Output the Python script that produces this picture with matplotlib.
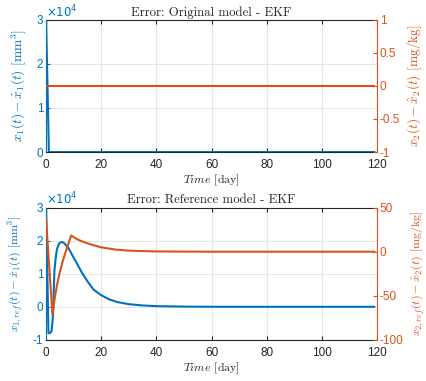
import matplotlib
matplotlib.use("Agg")
import matplotlib.pyplot as plt
from matplotlib.ticker import FuncFormatter, FixedLocator

plt.rcParams['font.family'] = ['Liberation Sans', 'DejaVu Sans']
plt.rcParams['mathtext.fontset'] = 'dejavusans'

BLUE = '#0072BD'
ORANGE = '#D95319'
DARK = '#262626'

# ---- data ----
# top panel (original model)
t_top_x1 = [0, 1, 119]
e_top_x1 = [30000, 0, 0]
t_top_x2 = [0, 119]
e_top_x2 = [0, 0]

# bottom panel (reference model)
t_bot_x1 = [0, 0.85, 1.5, 2.0, 2.5, 3.0, 3.5, 3.9, 4.5, 5.0, 5.7, 6.5, 8.1, 9.5, 11.1,
            13, 15, 17.2, 20, 23, 26, 30, 35, 40, 50, 60, 80, 119]
e_bot_x1 = [30000, -8000, -7900, -7300, -2500, 10700, 15000, 17300, 18800, 19400, 19600,
            19300, 17800, 15600, 13200, 10300, 7700, 5200, 3500, 2200, 1400, 800, 400,
            200, 60, 10, 0, 0]
t_bot_x2 = [0, 2.3, 3, 4, 5, 6, 7, 8, 9.1, 10, 12, 15, 17, 20, 25, 30, 40, 60, 119]
e_bot_x2 = [36.4, -71.7, -55, -37, -23, -11, -1, 8.5, 18.5, 16.5, 13, 9.5, 7.5, 5,
            2.5, 1.2, 0.3, 0, 0]

x_ticks = [0, 20, 40, 60, 80, 100, 120]
top_left_ticks = [0, 10000, 20000, 30000]
top_right_ticks = [-1, -0.5, 0, 0.5, 1]
bot_left_ticks = [-10000, 0, 10000, 20000, 30000]
bot_right_ticks = [-100, -50, 0, 50]

fig = plt.figure(figsize=(4.27, 3.81), dpi=100)

def make_panel(rect, title, t1, e1, t2, e2, lt, lylim, rt, rylim, ylab_l, ylab_r,
               ylab_size):
    ax = fig.add_axes(rect)
    ax.plot(t1, e1, color=BLUE, lw=1.5, zorder=3)
    ax.set_xlim(0, 120)
    ax.set_ylim(*lylim)
    ax.xaxis.set_major_locator(FixedLocator(x_ticks))
    ax.yaxis.set_major_locator(FixedLocator(lt))
    ax.yaxis.set_major_formatter(FuncFormatter(lambda v, p: '%g' % (v / 1e4)))
    ax.grid(True, color='#e6e6e6', lw=0.8, zorder=0)
    ax.set_axisbelow(True)
    ax.tick_params(axis='x', direction='in', top=True, colors=DARK, labelsize=8.5,
                   length=3, width=0.8, pad=5)
    ax.tick_params(axis='y', direction='in', colors=BLUE, labelsize=8.5,
                   length=3, width=0.8, pad=2)
    for s in ['top', 'bottom']:
        ax.spines[s].set_color(DARK)
        ax.spines[s].set_linewidth(0.8)
    ax.spines['left'].set_color(BLUE)
    ax.spines['left'].set_linewidth(0.8)
    ax.spines['right'].set_visible(False)
    ax.text(0.0, 1.0, r'$\times10^4$', transform=ax.transAxes, color=BLUE,
            fontsize=8.5, ha='left', va='bottom')
    ax.set_title(title, fontfamily='cmr10', fontsize=9.2, pad=3, color=DARK)
    ax.set_xlabel(r'$Time$ [day]', fontfamily='cmr10', math_fontfamily='cm',
                  fontsize=8.5, color=DARK, labelpad=1)
    ax.set_ylabel(ylab_l, fontfamily='cmr10', math_fontfamily='cm', fontsize=ylab_size,
                  color=BLUE, labelpad=6)

    ax2 = ax.twinx()
    ax2.plot(t2, e2, color=ORANGE, lw=1.5, zorder=3)
    ax2.set_ylim(*rylim)
    ax2.yaxis.set_major_locator(FixedLocator(rt))
    ax2.yaxis.set_major_formatter(FuncFormatter(lambda v, p: '%g' % v))
    ax2.tick_params(axis='y', direction='in', colors=ORANGE, labelsize=8.5,
                    length=3, width=0.8, pad=2)
    for s in ['top', 'bottom', 'left']:
        ax2.spines[s].set_visible(False)
    ax2.spines['right'].set_color(ORANGE)
    ax2.spines['right'].set_linewidth(0.8)
    ax2.set_ylabel(ylab_r, fontfamily='cmr10', math_fontfamily='cm', fontsize=ylab_size,
                   color=ORANGE, labelpad=4)
    return ax, ax2

make_panel([0.108, 0.601, 0.775, 0.347], 'Error: Original model - EKF',
           t_top_x1, e_top_x1, t_top_x2, e_top_x2,
           top_left_ticks, (0, 30000), top_right_ticks, (-1, 1),
           r'$x_1(t)-\hat{x}_1(t)$ [mm$^3$]', r'$x_2(t)-\hat{x}_2(t)$ [mg/kg]', 9.6)

make_panel([0.108, 0.108, 0.775, 0.347], 'Error: Reference model - EKF',
           t_bot_x1, e_bot_x1, t_bot_x2, e_bot_x2,
           bot_left_ticks, (-10000, 30000), bot_right_ticks, (-100, 50),
           r'$x_{1,ref}(t)-\hat{x}_1(t)$ [mm$^3$]', r'$x_{2,ref}(t)-\hat{x}_2(t)$ [mg/kg]', 8.6)

fig.savefig('out.png', dpi=100)
